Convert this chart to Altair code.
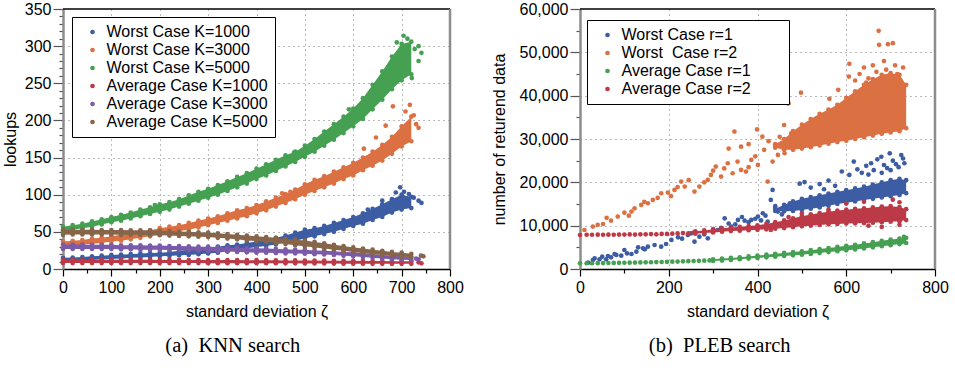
import altair as alt
import pandas as pd

FONT = "Liberation Sans"
SERIF = "Liberation Serif"

# ======================= (a) KNN search =======================
knn_names = ["Worst Case K=1000", "Worst Case K=3000", "Worst Case K=5000",
             "Average Case K=1000", "Average Case K=3000", "Average Case K=5000"]
knn_colors = ["#3C5DA3", "#DB7043", "#45A052", "#BC3A47", "#7A5BA9", "#86654B"]

# x positions of the dense bands (standard deviation)
knn_x = [0, 20, 40, 60, 80, 100, 120, 140, 160, 180, 200, 220, 240, 260, 280, 300,
         320, 340, 360, 380, 400, 420, 440, 460, 480, 500, 520, 540, 560, 580, 600,
         620, 640, 660, 680, 700, 720]

# lower / upper edge of each dense point cloud (lookups)
w1000_lo = [10, 11, 11.5, 12, 13, 13.5, 14, 15, 15.5, 16, 17, 17.5, 18.5, 19, 20, 21, 22, 24, 26, 28,
            29.5, 31, 33, 36, 38, 41, 44, 47, 50, 54, 58, 61, 66, 70, 76, 80, 82]
w1000_hi = [15, 15.5, 16, 17, 18, 19, 19.5, 20, 21, 21.5, 22, 23, 24.5, 26, 27, 28, 30, 32, 33, 35,
            37, 39, 42, 45, 49, 53, 55, 58, 62, 66, 70, 75, 81, 87, 94, 100, 97]
w3000_lo = [30, 31, 33, 34, 35, 37, 38, 40, 42, 44, 46, 48, 51, 53, 56, 59, 62, 65, 68, 71,
            75, 79, 84, 89, 94, 100, 105, 110, 115, 121, 126, 133, 139, 146, 155, 165, 172]
w3000_hi = [37, 38, 39, 41, 42, 44, 46, 48, 50, 52, 55, 57, 59, 62, 65, 68, 71, 75, 79, 82,
            86, 91, 96, 101, 107, 114, 120, 125, 131, 137, 143, 150, 158, 167, 178, 192, 205]
w5000_lo = [51, 53, 55, 57, 60, 63, 65, 68, 71, 74, 77, 80, 84, 88, 92, 96, 100, 105, 110, 115,
            121, 126, 132, 138, 144, 151, 158, 166, 174, 183, 192, 202, 215, 228, 242, 254, 262]
w5000_hi = [57, 59, 61, 64, 67, 70, 73, 76, 80, 83, 87, 90, 94, 99, 104, 108, 113, 118, 124, 129,
            135, 141, 147, 153, 158, 166, 175, 185, 195, 205, 216, 230, 248, 266, 286, 303, 306]
a1000_lo = [8, 8, 8, 8, 8, 8, 8, 8, 8, 8, 8, 8, 8, 8, 8, 7.9, 7.9, 7.9, 7.8, 7.8,
            7.8, 7.7, 7.7, 7.6, 7.6, 7.5, 7.5, 7.4, 7.3, 7.2, 7.1, 7.1, 7, 7, 7, 7, 7]
a1000_hi = [12.5, 12.5, 12.5, 12.4, 12.4, 12.4, 12.3, 12.3, 12.3, 12.3, 12.2, 12.2, 12.2, 12.1, 12.1,
            12, 12, 12, 12, 11.9, 11.9, 11.8, 11.7, 11.6, 11.5, 11.4, 11.3, 11.2, 11.1, 11, 11,
            10.9, 10.8, 10.7, 10.6, 10.5, 10.4]
a3000_lo = [27, 27, 27, 27, 27, 27, 26.5, 26.5, 26, 26, 26, 25.5, 25.5, 25, 25, 24.5, 24, 23.5, 23, 22.5,
            22, 22, 21.5, 21, 21, 20.5, 20, 19.5, 19, 18, 17, 16, 15, 14, 13, 12.5, 12]
a3000_hi = [33, 33, 33, 32.5, 32.5, 32.5, 32, 32, 32, 31.5, 31.5, 31, 31, 30.5, 30, 30, 29.5, 29, 28.5, 28,
            28, 27.5, 27, 26.5, 26, 26, 25, 24.5, 24, 23, 22.5, 21.5, 20, 19, 18, 17, 16]
a5000_lo = [46, 46.5, 46.5, 46.5, 46.5, 46.5, 46, 46, 46, 45.5, 45.5, 45, 44.5, 44, 43.5, 43, 42, 41, 40, 38.5,
            37.5, 36.5, 35, 33.5, 32, 30.5, 29, 27.5, 26, 24.5, 23, 21.5, 20, 19, 17.5, 16.5, 16]
a5000_hi = [53, 53, 53, 53, 52.5, 52.5, 52.5, 52, 52, 52, 51.5, 51, 50.5, 50, 49.5, 49, 48, 47, 46, 45,
            44, 43, 42, 40.5, 39.5, 38.5, 36.5, 34.5, 32.5, 31, 29, 27.5, 26, 24.5, 23, 22, 20.5]

# scattered single points outside the dense clouds
w1000_px = [697, 741, 705, 688, 715, 660, 630, 735, 725]
w1000_py = [110, 89, 104, 103, 101, 92, 80, 92, 96]
w3000_px = [717, 682, 725, 667, 647, 622, 453, 470, 730, 708, 735]
w3000_py = [221, 219, 207, 193, 177, 162, 102, 104, 195, 212, 190]
w5000_px = [704, 741, 721, 690, 712, 727, 591, 300, 190, 478, 735, 735]
w5000_py = [314, 291, 257, 305, 310, 296, 215, 106, 86, 157, 280, 300]
a1000_px = [741, 735]
a1000_py = [7.6, 9]
a3000_px = [730, 735]
a3000_py = [14, 13]
a5000_px = [740, 745]
a5000_py = [18, 17]

knn_x_ticks = [0, 50, 100, 150, 200, 250, 300, 350, 400, 450, 500, 550, 600, 650, 700, 750, 800]
knn_y_ticks = [0, 10, 20, 30, 40, 50, 60, 70, 80, 90, 100, 110, 120, 130, 140, 150, 160, 170, 180,
               190, 200, 210, 220, 230, 240, 250, 260, 270, 280, 290, 300, 310, 320, 330, 340, 350]

# ======================= (b) PLEB search =======================
pleb_names = ["Worst Case r=1", "Worst\u00a0 Case r=2", "Average Case r=1", "Average Case r=2"]
pleb_colors = ["#3C5DA3", "#DB7043", "#45A052", "#BC3A47"]

wr1_x = [440, 460, 480, 500, 520, 540, 560, 580, 600, 620, 640, 660, 680, 700, 720, 735]
wr1_lo = [13400, 13300, 13400, 13600, 13900, 14200, 14600, 15000, 15300, 15600, 15900, 16200, 16500, 16800, 17100, 17500]
wr1_hi = [13900, 14800, 15600, 16200, 16600, 17000, 17400, 17800, 18200, 18600, 19000, 19500, 20000, 20500, 20800, 20500]
wr2_x = [440, 460, 480, 500, 520, 540, 560, 580, 600, 620, 640, 660, 680, 700, 720, 735]
wr2_lo = [28000, 27500, 27500, 27800, 28100, 28500, 28900, 29300, 29600, 30000, 30400, 30800, 31200, 31500, 31800, 32500]
wr2_hi = [28800, 30000, 31800, 33300, 34600, 35800, 36800, 37900, 39500, 41000, 42500, 43800, 44800, 45200, 44800, 42500]
ar1_x = [300, 320, 340, 360, 380, 400, 420, 440, 460, 480, 500, 520, 540, 560, 580, 600, 620, 640, 660,
         680, 700, 720, 735]
ar1_lo = [1850, 1950, 2100, 2250, 2400, 2550, 2700, 2850, 3000, 3150, 3300, 3500, 3700, 3900, 4100, 4300,
          4500, 4750, 5000, 5250, 5500, 5750, 6000]
ar1_hi = [2250, 2400, 2550, 2700, 2900, 3100, 3300, 3500, 3700, 3900, 4100, 4350, 4600, 4850, 5100, 5350,
          5600, 5900, 6200, 6500, 6800, 7000, 7200]
ar2_x = [260, 280, 300, 320, 340, 360, 380, 400, 420, 440, 460, 480, 500, 520, 540, 560, 580, 600, 620,
         640, 660, 680, 700, 720, 735]
ar2_lo = [8150, 8300, 8450, 8600, 8750, 8850, 8950, 9050, 9150, 9300, 9450, 9650, 9850, 10000, 10150, 10300,
          10400, 10500, 10550, 10600, 10700, 10800, 10900, 11000, 11300]
ar2_hi = [8700, 8900, 9200, 9400, 9600, 9750, 9900, 10100, 10400, 10800, 11200, 11700, 12200, 12600, 12900,
          13200, 13500, 13700, 13900, 14000, 14200, 14400, 14500, 14300, 13800]

wr1_px = [18, 29, 33, 44, 50, 59, 63, 70, 78, 82, 93, 100, 106, 116, 127, 131, 142, 146, 153, 168, 183, 194,
          206, 221, 230, 243, 250, 258, 269, 280, 288, 299, 310, 318, 326, 335, 341, 350, 356, 365, 371, 380,
          386, 395, 401, 408, 412, 418, 423, 430, 434, 440, 446, 455, 461, 473, 484, 495, 506, 520, 540,
          550, 560, 575, 590, 607, 617, 625, 635, 645, 650, 656, 662, 670, 679, 680, 685, 692, 698, 700,
          705, 712, 718, 724, 728, 731]
wr1_py = [1460, 2080, 2460, 2230, 2850, 2230, 3000, 2690, 3460, 3230, 3080, 4390, 3620, 3460, 4000, 5000,
          4770, 4540, 5160, 5540, 5160, 5770, 6700, 7310, 7000, 7850, 8200, 6310, 7460, 8000, 7080, 8620,
          9000, 9500, 11700, 10500, 9780, 10300, 11320, 12000, 11160, 10800, 11320, 11600, 12090, 11200,
          12860, 12300, 10930, 15940, 18250, 14500, 13250, 12600, 14010, 15170, 14780, 19690, 20060,
          18800, 19600, 18400, 20400, 19200, 22500, 21700, 24800, 23000, 22200, 23800, 21800, 24400,
          22800, 25300, 25900, 22200, 24000, 23300, 26700, 22800, 25000, 24200, 23500, 26300, 25500, 24400]
wr2_px = [10, 29, 40, 52, 60, 70, 85, 100, 110, 116, 123, 138, 145, 153, 164, 175, 183, 198, 205, 213, 220,
          228, 236, 245, 258, 269, 280, 288, 295, 300, 306, 318, 325, 333, 335, 344, 348, 355, 363, 363,
          374, 380, 380, 386, 395, 399, 401, 411, 415, 423, 425, 434, 440, 446, 450, 460, 461, 468, 470,
          476, 498, 562, 582, 606, 607, 620, 630, 640, 645, 650, 655, 660, 668, 673, 674, 675, 685, 690,
          694, 700, 700, 705, 710, 715, 722, 728]
wr2_py = [9000, 9780, 10200, 10390, 11800, 11160, 12100, 13000, 12300, 13250, 14000, 14780, 15500, 15170,
          15940, 16400, 17480, 17630, 16800, 18250, 18900, 20170, 19020, 20500, 17860, 19020, 20000, 20550,
          21710, 22700, 23630, 21330, 23200, 24400, 27800, 22090, 31710, 24800, 22860, 28230, 22480, 23500,
          28800, 25170, 26000, 32220, 24020, 30530, 27500, 20170, 29500, 24790, 28500, 26330, 30500, 33230,
          26710, 38230, 38230, 31330, 40700, 39270, 41340, 44410, 47340, 43500, 45000, 46500, 43000, 44000,
          42500, 47000, 45500, 54960, 51730, 43000, 48000, 46000, 51880, 44500, 42000, 52110, 47000, 45000,
          43500, 46500]
ar1_px = [0, 15, 27, 40, 52, 64, 76, 88, 100, 112, 124, 136, 148, 160, 172, 184, 196, 208, 220, 232, 244,
          256, 268, 280, 292, 725, 730]
ar1_py = [1300, 1320, 1330, 1350, 1360, 1380, 1400, 1420, 1440, 1460, 1490, 1510, 1530, 1560, 1590, 1620,
          1650, 1690, 1720, 1760, 1800, 1840, 1880, 1930, 1980, 6200, 7400]
ar2_px = [0, 15, 27, 40, 52, 64, 76, 88, 100, 112, 124, 136, 148, 160, 172, 184, 196, 208, 220, 232, 244,
          256, 430, 470, 500, 560, 600, 640, 650, 680, 705, 720, 720]
ar2_py = [7850, 7900, 7900, 7920, 7900, 7930, 7900, 7950, 7950, 7980, 7950, 8000, 8000, 8050, 8000, 8100,
          8100, 8150, 8200, 8300, 8250, 8400, 9000, 12000, 12800, 13700, 15100, 15500, 10000, 9700, 16000,
          15400, 10200]

pleb_x_ticks = [0, 100, 200, 300, 400, 500, 600, 700, 800]
pleb_y_ticks = [0, 5000, 10000, 15000, 20000, 25000, 30000, 35000, 40000, 45000, 50000, 55000, 60000]

FS = 16


# ---------------------------------------------------------------
def band_table(names, xs, los, his):
    rows = []
    for n, x, lo, hi in zip(names, xs, los, his):
        for a, b, c in zip(x, lo, hi):
            rows.append({"series": n, "x": a, "lo": b, "hi": c})
    return pd.DataFrame(rows)


def point_table(names, xs, ys):
    rows = []
    for n, x, y in zip(names, xs, ys):
        for a, b in zip(x, y):
            rows.append({"series": n, "x": a, "y": b})
    return pd.DataFrame(rows)


def cond(test, yes, no):
    return {"condition": {"test": test, "value": yes}, "value": no}


def make_x_axis(values, major, title):
    return alt.Axis(
        title=title, values=values, labelFlush=False, labelOverlap=False,
        labelExpr=f"datum.value % {major} === 0 ? datum.label : ''",
        tickSize=cond(f"datum.value % {major} === 0", 7, 4),
        tickColor="black", tickWidth=1.2, domainColor="black", domainWidth=1.5,
        grid=True, gridDash=[1, 4], gridColor="#777", gridWidth=1,
        gridOpacity=cond(f"datum.value % {major} === 0 && datum.value > {values[0]} && datum.value < {values[-1]}", 1, 0),
        labelFontSize=FS, labelPadding=3, labelColor="black", labelFont=FONT,
        titleFontSize=FS, titleFontWeight="normal", titlePadding=8, titleColor="black", titleFont=FONT)


def make_y_axis(values, major, title, fmt, title_pad):
    return alt.Axis(
        title=title, values=values, format=fmt, labelOverlap=False,
        labelExpr=f"datum.value % {major} === 0 ? datum.label : ''",
        tickSize=cond(f"datum.value % {major} === 0", 10, 4),
        tickColor="#555", tickWidth=1.2, domainColor="#8c8c8c", domainWidth=2.5,
        grid=True, gridDash=[1, 4], gridColor="#777", gridWidth=1,
        gridOpacity=cond(f"datum.value % {major} === 0 && datum.value > {values[0]} && datum.value < {values[-1]}", 1, 0),
        labelFontSize=FS, labelPadding=2, labelColor="black", labelFont=FONT,
        titleFontSize=FS, titleFontWeight="normal", titlePadding=title_pad, titleColor="black", titleFont=FONT)


def panel(names, colors, bands, points, xaxis, yaxis, xdom, ydom, width, height, label_pad, caption,
          lx, ly):
    xs = alt.Scale(domain=xdom, nice=False, zero=False)
    ys = alt.Scale(domain=ydom, nice=False)
    legend = alt.Legend(
        title=None, orient="none", legendX=lx, legendY=ly, strokeColor="black", fillColor="white",
        padding=7, symbolType="circle", symbolSize=22, symbolOffset=5.5, symbolStrokeWidth=0,
        labelOffset=6, labelFontSize=FS, labelFont=FONT, labelColor="black", rowPadding=2,
        labelLimit=400, labelExpr="datum.label + '" + label_pad + "'")
    col = alt.Color("series:N", scale=alt.Scale(domain=names, range=colors), legend=legend)

    def X(f):
        return alt.X(f"{f}:Q", scale=xs, axis=xaxis)

    def Y(f):
        return alt.Y(f"{f}:Q", scale=ys, axis=yaxis)

    layers = []
    for n in names:
        b = alt.Chart(bands).transform_filter(alt.datum.series == n)
        layers.append(b.mark_area(opacity=1, strokeWidth=0).encode(x=X("x"), y=Y("lo"), y2=alt.Y2("hi"), color=col))
        layers.append(b.mark_circle(size=22, opacity=1).encode(x=X("x"), y=Y("lo"), color=col))
        layers.append(b.mark_circle(size=22, opacity=1).encode(x=X("x"), y=Y("hi"), color=col))
        p = alt.Chart(points).transform_filter(alt.datum.series == n)
        layers.append(p.mark_circle(size=22, opacity=1).encode(x=X("x"), y=Y("y"), color=col))

    one = alt.Chart(pd.DataFrame({"k": [0]}))
    top = one.mark_rule(color="black", strokeWidth=1.5).encode(
        x=alt.XDatum(xdom[0], scale=xs, axis=xaxis), x2=alt.X2Datum(xdom[1]),
        y=alt.YDatum(ydom[1], scale=ys, axis=yaxis))
    right = one.mark_rule(color="#8c8c8c", strokeWidth=2.5).encode(
        x=alt.XDatum(xdom[1], scale=xs, axis=xaxis),
        y=alt.YDatum(ydom[0], scale=ys, axis=yaxis), y2=alt.Y2Datum(ydom[1]))
    layers += [top, right]

    return alt.layer(*layers).properties(
        width=width, height=height,
        title=alt.TitleParams(text=caption, orient="bottom", anchor="middle", frame="bounds", font=SERIF,
                              fontSize=20.5, fontWeight="normal", color="black", offset=17))


knn_bands = band_table(knn_names, [knn_x] * 6,
                       [w1000_lo, w3000_lo, w5000_lo, a1000_lo, a3000_lo, a5000_lo],
                       [w1000_hi, w3000_hi, w5000_hi, a1000_hi, a3000_hi, a5000_hi])
knn_points = point_table(knn_names,
                         [w1000_px, w3000_px, w5000_px, a1000_px, a3000_px, a5000_px],
                         [w1000_py, w3000_py, w5000_py, a1000_py, a3000_py, a5000_py])
pleb_bands = band_table(pleb_names, [wr1_x, wr2_x, ar1_x, ar2_x],
                        [wr1_lo, wr2_lo, ar1_lo, ar2_lo], [wr1_hi, wr2_hi, ar1_hi, ar2_hi])
pleb_points = point_table(pleb_names, [wr1_px, wr2_px, ar1_px, ar2_px], [wr1_py, wr2_py, ar1_py, ar2_py])

left = panel(knn_names, knn_colors, knn_bands, knn_points,
             make_x_axis(knn_x_ticks, 100, "standard deviation ζ"),
             make_y_axis(knn_y_ticks, 50, "lookups", "d", 6),
             [0, 800], [0, 350], 387, 260, "", "(a)\u00a0 KNN search", 9, 8)
right = panel(pleb_names, pleb_colors, pleb_bands, pleb_points,
              make_x_axis(pleb_x_ticks, 200, "standard deviation ζ"),
              make_y_axis(pleb_y_ticks, 10000, "number of returend data", ",d", 12),
              [0, 800], [0, 60000], 355, 260, "\u2007\u2007\u2007\u00a0\u200b", "(b)\u00a0 PLEB search", 7, 11)

chart = alt.hconcat(left, right, spacing=27).resolve_scale(
    color="independent", x="independent", y="independent"
).properties(
    padding={"left": 2, "top": 1, "right": 0, "bottom": 0}
).configure(font=FONT).configure_view(strokeWidth=0)

chart.save("out.html", embed_options={"renderer": "svg", "actions": False})
